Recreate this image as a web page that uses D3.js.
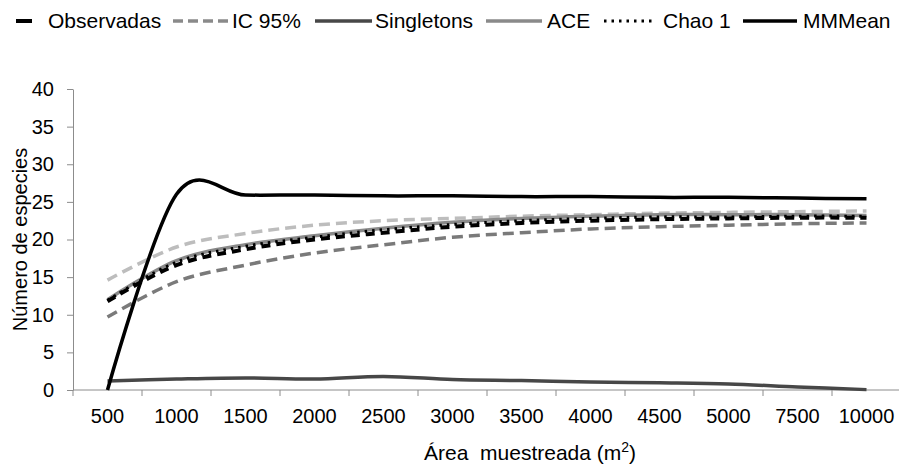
<!DOCTYPE html>
<html>
<head>
<meta charset="utf-8">
<script src="https://cdn.jsdelivr.net/npm/d3@7"></script>
<style>
  html, body { margin: 0; padding: 0; background: #fff; }
  svg { display: block; font-family: "Liberation Sans", Arial, sans-serif; }
</style>
</head>
<body>
<svg id="chart" width="899" height="467"></svg>
<script>
// ---- data ----
const categories = ["500","1000","1500","2000","2500","3000","3500","4000","4500","5000","7500","10000"];
const observadas = [11.8, 16.6, 18.7, 20.0, 20.9, 21.7, 22.2, 22.5, 22.7, 22.8, 22.9, 22.9];
const icUpper    = [14.6, 19.0, 20.8, 21.9, 22.5, 22.8, 23.1, 23.3, 23.5, 23.6, 23.7, 23.8];
const icLower    = [9.7, 14.4, 16.6, 18.2, 19.3, 20.3, 20.9, 21.4, 21.7, 21.9, 22.1, 22.2];
const singletons = [1.2, 1.45, 1.6, 1.45, 1.8, 1.4, 1.25, 1.05, 0.95, 0.8, 0.4, 0.05];
const ace        = [12.0, 17.2, 19.3, 20.5, 21.5, 22.3, 22.8, 23.1, 23.3, 23.3, 23.3, 23.2];
const chao1      = [11.9, 17.0, 19.1, 20.3, 21.3, 22.0, 22.5, 22.8, 23.0, 23.0, 23.1, 23.1];
const mmmean     = [0, 26.0, 25.9, 25.9, 25.8, 25.8, 25.7, 25.7, 25.6, 25.6, 25.5, 25.4];
const yTicks = [0, 5, 10, 15, 20, 25, 30, 35, 40];
const legendLabels = ["Observadas", "IC 95%", "Singletons", "ACE", "Chao 1", "MMMean"];
const yTitle = "Número de especies";
const xTitle = "Área  muestreada (m";

// ---- layout ----
const svg = d3.select("#chart");
const plotLeft = 73, plotRight = 901, plotTop = 89, plotBottom = 390;
const x = d3.scaleBand().domain(categories).range([plotLeft, plotRight]).padding(0);
const y = d3.scaleLinear().domain([0, 40]).range([plotBottom, plotTop]);
const cx = c => x(c) + x.bandwidth() / 2;
const axisColor = "#8c8c8c";

// y axis
const yAxis = svg.append("g").attr("transform", `translate(${plotLeft},0)`)
  .call(d3.axisLeft(y).tickValues(yTicks).tickSize(6).tickPadding(13).tickSizeOuter(0));
yAxis.select(".domain").attr("stroke", axisColor);
yAxis.selectAll(".tick line").attr("stroke", axisColor);
yAxis.selectAll(".tick text").attr("font-size", 20).attr("fill", "#000")
  .attr("font-family", "Liberation Sans, Arial, sans-serif");

// x axis: labels at category centres, ticks at band boundaries
svg.append("line").attr("x1", plotLeft).attr("x2", 899).attr("y1", plotBottom).attr("y2", plotBottom)
  .attr("stroke", axisColor);
svg.append("g").selectAll("line").data(categories).join("line")
  .attr("x1", d => x(d)).attr("x2", d => x(d))
  .attr("y1", plotBottom).attr("y2", plotBottom + 6).attr("stroke", axisColor);
svg.append("g").selectAll("text").data(categories).join("text")
  .attr("x", d => cx(d)).attr("y", 423)
  .attr("text-anchor", "middle").attr("font-size", 20).attr("fill", "#000")
  .text(d => d);

// axis titles
svg.append("text")
  .attr("transform", `translate(27,${(plotTop + plotBottom) / 2}) rotate(-90)`)
  .attr("text-anchor", "middle").attr("font-size", 20).attr("fill", "#000")
  .text(yTitle);
const xt = svg.append("text").attr("x", 424).attr("y", 460).attr("font-size", 21)
  .attr("fill", "#000").attr("xml:space", "preserve").style("white-space", "pre");
xt.append("tspan").text(xTitle);
xt.append("tspan").attr("font-size", 14).attr("dy", -8).text("2");
xt.append("tspan").attr("dy", 8).text(")");

// ---- series ----
const line = d3.line().x((d, i) => cx(categories[i])).y(d => y(d)).curve(d3.curveCardinal.tension(0));
const series = [
  { values: icUpper,    stroke: "#bdbdbd", width: 3.5, dash: "11,6" },
  { values: icLower,    stroke: "#7a7a7a", width: 3.5, dash: "11,6" },
  { values: singletons, stroke: "#474747", width: 3.5, dash: null },
  { values: ace,        stroke: "#8a8a8a", width: 3.5, dash: null },
  { values: observadas, stroke: "#000000", width: 4,   dash: "9,6" },
  { values: chao1,      stroke: "#000000", width: 3,   dash: "2.5,5" },
  { values: mmmean,     stroke: "#000000", width: 3.5, dash: null }
];
svg.append("g").selectAll("path").data(series).join("path")
  .attr("d", d => line(d.values))
  .attr("fill", "none")
  .attr("stroke", d => d.stroke)
  .attr("stroke-width", d => d.width)
  .attr("stroke-dasharray", d => d.dash)
  .attr("stroke-linejoin", "round");

// ---- legend ----
const legendSym = [
  { x1: 16,  x2: 32,  stroke: "#000",    width: 4,   dash: null },
  { x1: 173, x2: 230, stroke: "#8a8a8a", width: 3.5, dash: "10,5" },
  { x1: 315, x2: 372, stroke: "#474747", width: 3.5, dash: null },
  { x1: 486, x2: 542, stroke: "#8a8a8a", width: 3.5, dash: null },
  { x1: 604, x2: 656, stroke: "#000",    width: 3,   dash: "2.5,5" },
  { x1: 743, x2: 797, stroke: "#000",    width: 3.5, dash: null }
];
const legendTextX = [48, 232, 375, 547, 663, 803];
const lg = svg.append("g");
lg.selectAll("line").data(legendSym).join("line")
  .attr("x1", d => d.x1).attr("x2", d => d.x2).attr("y1", 21).attr("y2", 21)
  .attr("stroke", d => d.stroke).attr("stroke-width", d => d.width)
  .attr("stroke-dasharray", d => d.dash);
lg.selectAll("text").data(legendLabels).join("text")
  .attr("x", (d, i) => legendTextX[i]).attr("y", 28)
  .attr("font-size", 21).attr("fill", "#000")
  .text(d => d);
</script>
</body>
</html>
